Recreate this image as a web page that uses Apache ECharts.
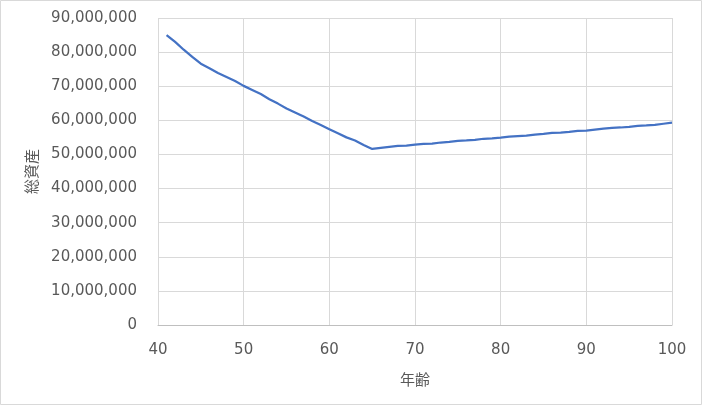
<!DOCTYPE html>
<html><head><meta charset="utf-8">
<script src="https://cdn.jsdelivr.net/npm/echarts@6/dist/echarts.min.js"></script>
<style>html,body{margin:0;padding:0;background:#fff}#c{width:702px;height:405px}</style>
</head><body><div id="c"></div>
<script>
var ages = [];
for (var a = 41; a <= 100; a++) ages.push(a);
var assets = [
85.0,83.0,80.7,78.6,76.6,75.3,73.9,72.7,71.5,70.1,
68.9,67.7,66.2,64.9,63.5,62.3,61.1,59.8,58.6,57.4,
56.2,55.0,54.1,52.8,51.6,51.9,52.2,52.5,52.6,52.9,
53.1,53.2,53.5,53.7,54.0,54.1,54.3,54.6,54.7,54.9,
55.2,55.4,55.5,55.8,56.0,56.3,56.4,56.6,56.9,57.0,
57.3,57.6,57.8,57.9,58.1,58.4,58.5,58.7,59.0,59.3
];
var xTitle = '年齢';
var yTitle = '総資産';
var data = ages.map(function(x, i){ return [x, assets[i] * 1000000]; });
var font = 'DejaVu Sans';
var chart = echarts.init(document.getElementById('c'));
chart.setOption({
  animation: false,
  graphic: [{type:'rect', shape:{x:0.5,y:0.5,width:701,height:404}, style:{fill:'none', stroke:'#d9d9d9', lineWidth:1}}],
  grid: {left:158, right:30, top:18, bottom:80},
  xAxis: {
    type:'value', min:40, max:100, interval:10,
    name: xTitle, nameLocation:'middle', nameGap:47,
    nameTextStyle:{color:'#595959', fontSize:15, fontFamily:'Noto Sans CJK JP'},
    axisLine:{show:true, lineStyle:{color:'#bfbfbf', width:1}},
    axisTick:{show:false},
    axisLabel:{color:'#595959', fontSize:15, fontFamily:font, margin:18},
    splitLine:{show:true, lineStyle:{color:'#d9d9d9', width:1}}
  },
  yAxis: {
    type:'value', min:0, max:90000000, interval:10000000,
    name: yTitle, nameLocation:'middle', nameGap:119, nameRotate:90,
    nameTextStyle:{color:'#595959', fontSize:15, fontFamily:'Noto Sans CJK JP'},
    axisLine:{show:false}, axisTick:{show:false},
    axisLabel:{color:'#595959', fontSize:15, fontFamily:font, margin:21,
      formatter:function(v){ return v.toString().replace(/\B(?=(\d{3})+(?!\d))/g, ','); }},
    splitLine:{show:true, lineStyle:{color:'#d9d9d9', width:1}}
  },
  series: [{type:'line', data:data, showSymbol:false, symbol:'none',
    lineStyle:{color:'#4472C4', width:2.25}, itemStyle:{color:'#4472C4'}}]
});
</script></body></html>
